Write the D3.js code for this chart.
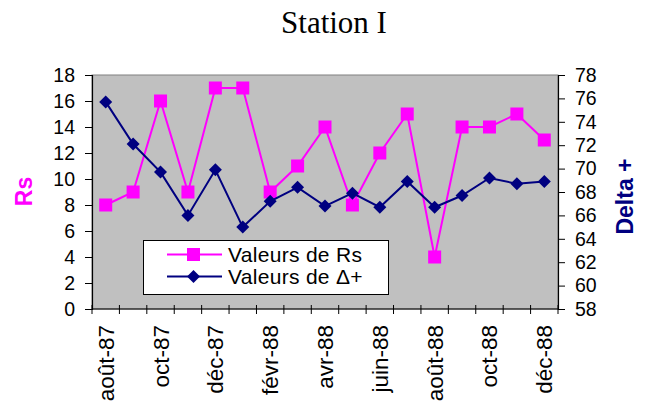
<!DOCTYPE html>
<html>
<head>
<meta charset="utf-8">
<script src="https://cdn.jsdelivr.net/npm/d3@7"></script>
<style>
  html, body { margin: 0; padding: 0; background: #fff; }
  svg { display: block; }
</style>
</head>
<body>
<svg id="chart" width="650" height="403"></svg>
<script>
// Monthly categories, August 1987 to December 1988
const months = ["août-87","sept-87","oct-87","nov-87","déc-87","janv-88","févr-88","mars-88","avr-88",
                "mai-88","juin-88","juil-88","août-88","sept-88","oct-88","nov-88","déc-88"];
// Only every second month gets a label
const labelledMonths = ["août-87","oct-87","déc-87","févr-88","avr-88","juin-88","août-88","oct-88","déc-88"];
const rsValues = [8, 9, 16, 9, 17, 17, 9, 11, 14, 8, 12, 15, 4, 14, 14, 15, 13];
const deltaValues = [75.7, 72.1, 69.7, 66.0, 69.9, 65.0, 67.2, 68.4, 66.8, 67.9, 66.7, 68.9, 66.7, 67.7, 69.2, 68.7, 68.9];
const leftTicks = [0, 2, 4, 6, 8, 10, 12, 14, 16, 18];
const rightTicks = [58, 60, 62, 64, 66, 68, 70, 72, 74, 76, 78];

const svg = d3.select("#chart");
const plot = { left: 92, right: 558, top: 75, bottom: 309 };
const sans = "'Liberation Sans', Arial, sans-serif";
const pink = "#FF00FF", navy = "#000080";

const x = d3.scaleBand().domain(months).range([plot.left, plot.right]);
const yL = d3.scaleLinear().domain([0, 18]).range([plot.bottom, plot.top]);
const yR = d3.scaleLinear().domain([58, 78]).range([plot.bottom, plot.top]);

// Title
svg.append("text").attr("x", 334).attr("y", 33).attr("text-anchor", "middle")
  .style("font-family", "'Liberation Serif', 'Times New Roman', serif").style("font-size", "31px")
  .text("Station I");

// Plot background
svg.append("rect").attr("x", plot.left).attr("y", plot.top)
  .attr("width", plot.right - plot.left).attr("height", plot.bottom - plot.top)
  .attr("fill", "#C0C0C0").attr("stroke", "#808080").attr("stroke-width", 1);

// Left axis
const axL = svg.append("g").attr("transform", `translate(${plot.left},0)`)
  .call(d3.axisLeft(yL).tickValues(leftTicks).tickSize(7).tickPadding(10));
// Right axis
const axR = svg.append("g").attr("transform", `translate(${plot.right},0)`)
  .call(d3.axisRight(yR).tickValues(rightTicks).tickSize(7).tickPadding(10));
[axL, axR].forEach(g => {
  g.select(".domain").attr("stroke", "#000").attr("stroke-width", 1.2);
  g.selectAll(".tick line").attr("stroke", "#000");
  g.selectAll("text").style("font-family", sans).style("font-size", "19.5px").attr("fill", "#000");
});

// Bottom axis: ticks on category boundaries, crossing the axis line
const bounds = months.map(m => x(m)).concat([plot.right]);
const axB = svg.append("g");
axB.append("line").attr("x1", plot.left).attr("x2", plot.right)
  .attr("y1", plot.bottom).attr("y2", plot.bottom).attr("stroke", "#000").attr("stroke-width", 1.2);
axB.selectAll("line.tk").data(bounds).join("line").attr("class", "tk")
  .attr("x1", d => d).attr("x2", d => d)
  .attr("y1", plot.bottom - 4).attr("y2", plot.bottom + 5).attr("stroke", "#000");
axB.selectAll("text").data(labelledMonths).join("text")
  .attr("transform", d => `translate(${x(d) + x.bandwidth() / 2 + 8},${plot.bottom + 16}) rotate(-90)`)
  .attr("text-anchor", "end")
  .style("font-family", sans).style("font-size", "22.5px")
  .text(d => d);

// Axis titles
svg.append("text").attr("transform", "translate(32,191.5) rotate(-90)").attr("text-anchor", "middle")
  .style("font-family", sans).style("font-size", "23px").style("font-weight", "bold")
  .attr("fill", pink).text("Rs");
svg.append("text").attr("transform", "translate(633,196.5) rotate(-90)").attr("text-anchor", "middle")
  .style("font-family", sans).style("font-size", "23px").style("font-weight", "bold")
  .attr("fill", navy).text("Delta +");

const cx = d => x(d) + x.bandwidth() / 2;

// Rs series
svg.append("path").datum(rsValues)
  .attr("d", d3.line().x((d, i) => cx(months[i])).y(d => yL(d)))
  .attr("fill", "none").attr("stroke", pink).attr("stroke-width", 2);
svg.selectAll("rect.rs").data(rsValues).join("rect").attr("class", "rs")
  .attr("x", (d, i) => cx(months[i]) - 6.5).attr("y", d => yL(d) - 6.5)
  .attr("width", 13).attr("height", 13).attr("fill", pink);

// Delta+ series
const diamond = s => `M0,${-s}L${s},0L0,${s}L${-s},0Z`;
svg.append("path").datum(deltaValues)
  .attr("d", d3.line().x((d, i) => cx(months[i])).y(d => yR(d)))
  .attr("fill", "none").attr("stroke", navy).attr("stroke-width", 2);
svg.selectAll("path.dl").data(deltaValues).join("path").attr("class", "dl")
  .attr("transform", (d, i) => `translate(${cx(months[i])},${yR(d)})`)
  .attr("d", diamond(6.5)).attr("fill", navy);

// Legend
const lg = svg.append("g");
lg.append("rect").attr("x", 143.5).attr("y", 240.5).attr("width", 245).attr("height", 54)
  .attr("fill", "#fff").attr("stroke", "#000").attr("stroke-width", 1);
const items = [
  { label: "Valeurs de Rs", color: pink, shape: "square", y: 254.5 },
  { label: "Valeurs de \u0394+", color: navy, shape: "diamond", y: 276.5 }
];
items.forEach(it => {
  lg.append("line").attr("x1", 167).attr("x2", 222).attr("y1", it.y).attr("y2", it.y)
    .attr("stroke", it.color).attr("stroke-width", 2);
  if (it.shape === "square") {
    lg.append("rect").attr("x", 193.5 - 6.5).attr("y", it.y - 6.5).attr("width", 13).attr("height", 13).attr("fill", it.color);
  } else {
    lg.append("path").attr("transform", `translate(193.5,${it.y})`).attr("d", diamond(6.5)).attr("fill", it.color);
  }
  lg.append("text").attr("x", 228).attr("y", it.y + 7.5)
    .style("font-family", sans).style("font-size", "21px").style("letter-spacing", "0.3px").text(it.label);
});
</script>
</body>
</html>
